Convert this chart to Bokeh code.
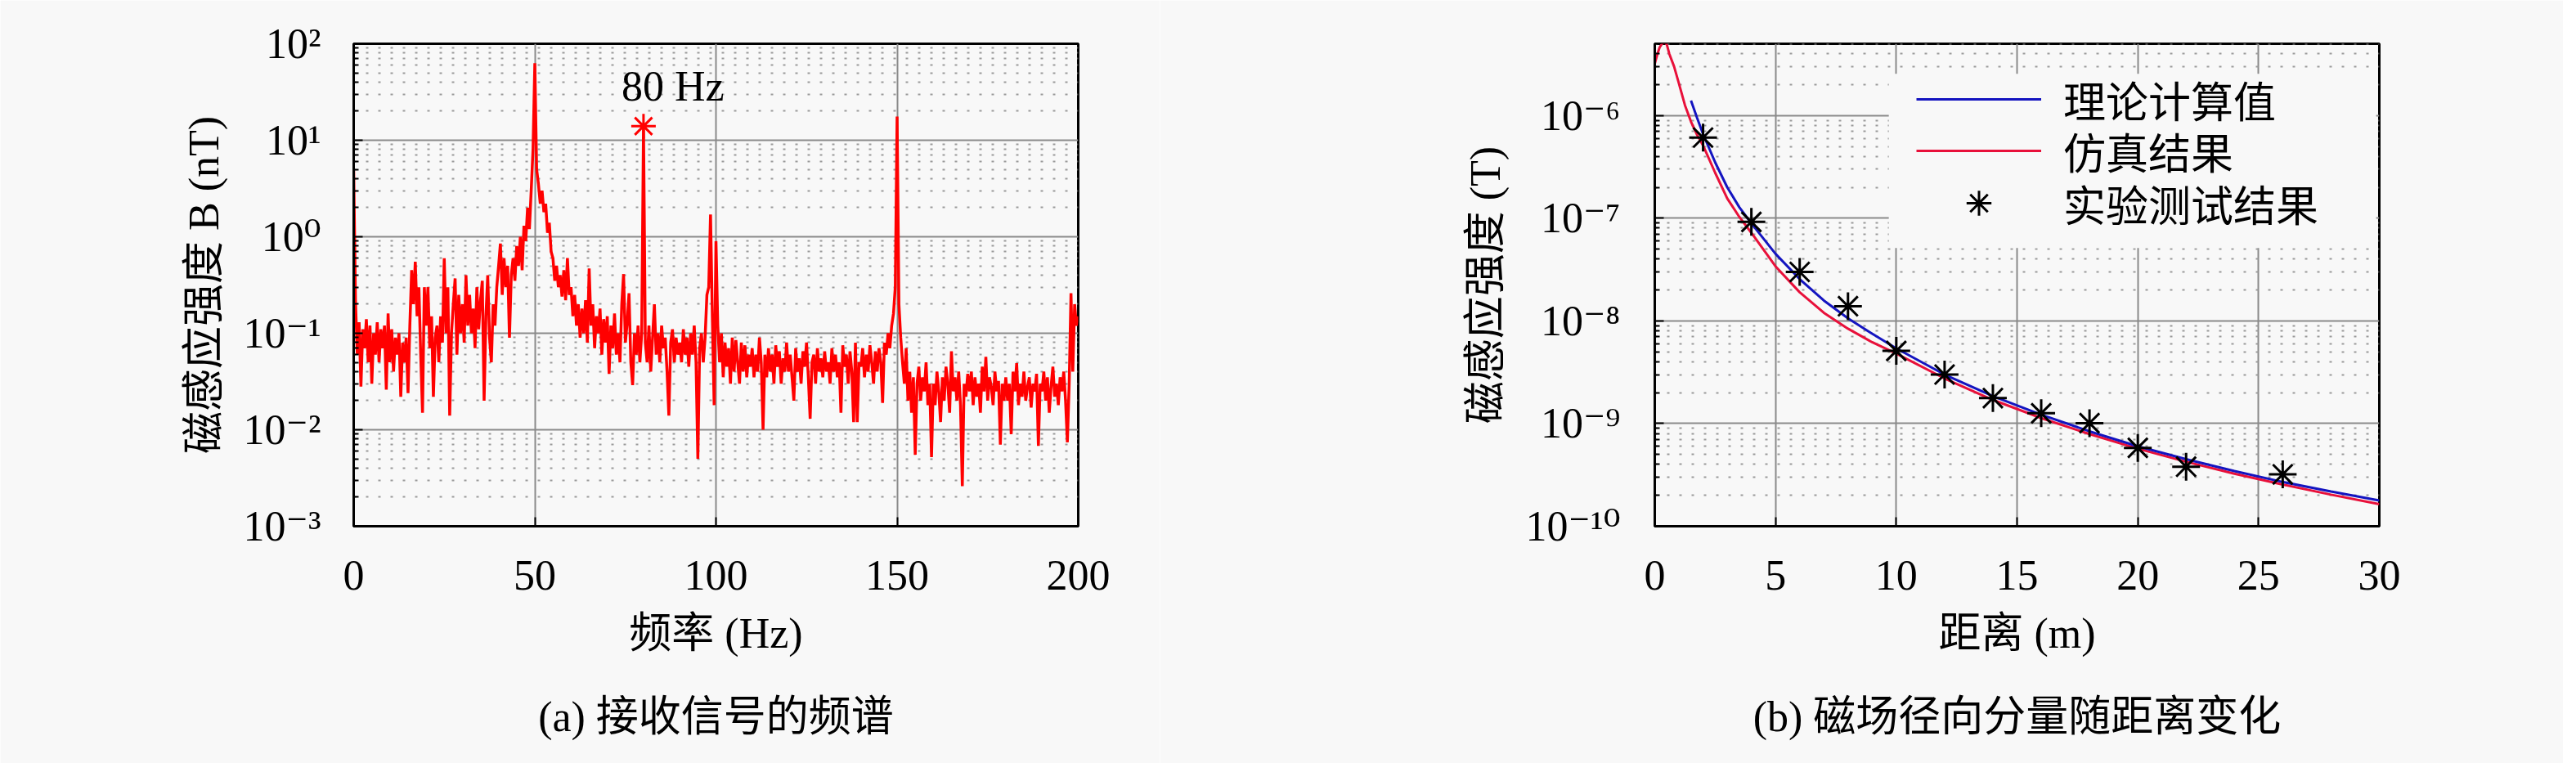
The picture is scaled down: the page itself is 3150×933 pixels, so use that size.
from bokeh.plotting import figure
from bokeh.layouts import row
from bokeh.models import (FixedTicker, CustomJSTickFormatter, Title, Label, Legend,
                          LegendItem, Range1d, BoxAnnotation)
from bokeh.embed import file_html
from bokeh.resources import INLINE

# ---------------- data: panel (a) received-signal spectrum ----------------
freq_start = 0.0
freq_step = 0.5
spectrum_nT = [
    4.8, 0.21, 0.06, 0.13, 0.028, 0.11, 0.07, 0.14, 0.05, 0.12, 0.03, 0.1, 0.06, 0.13, 0.05, 0.11, 0.07, 0.12, 0.026, 0.16,
    0.05, 0.11, 0.04, 0.09, 0.06, 0.1, 0.022, 0.08, 0.05, 0.09, 0.024, 0.12, 0.45, 0.2, 0.55, 0.15, 0.3, 0.06, 0.015, 0.3,
    0.12, 0.3, 0.07, 0.15, 0.022, 0.09, 0.12, 0.05, 0.15, 0.08, 0.6, 0.1, 0.3, 0.014, 0.1, 0.2, 0.37, 0.06, 0.25, 0.1,
    0.2, 0.08, 0.4, 0.12, 0.25, 0.1, 0.18, 0.07, 0.3, 0.11, 0.22, 0.35, 0.02, 0.15, 0.4, 0.09, 0.05, 0.2, 0.12, 0.3,
    0.5, 0.85, 0.25, 0.6, 0.3, 0.5, 0.09, 0.4, 0.6, 0.35, 0.8, 0.5, 1.0, 0.45, 1.3, 0.9, 2.0, 1.2, 3.0, 8.0,
    63, 5.0, 3.5, 2.2, 3.0, 1.8, 2.2, 1.1, 1.4, 0.7, 0.6, 0.35, 0.5, 0.3, 0.4, 0.24, 0.45, 0.22, 0.6, 0.25,
    0.3, 0.15, 0.25, 0.12, 0.2, 0.09, 0.18, 0.1, 0.22, 0.08, 0.47, 0.12, 0.2, 0.07, 0.15, 0.1, 0.18, 0.06, 0.14, 0.08,
    0.15, 0.038, 0.12, 0.07, 0.16, 0.06, 0.1, 0.05, 0.2, 0.41, 0.08, 0.13, 0.26, 0.05, 0.029, 0.1, 0.06, 0.12, 0.05, 0.1,
    14, 0.08, 0.05, 0.12, 0.04, 0.09, 0.2, 0.06, 0.1, 0.05, 0.12, 0.07, 0.09, 0.04, 0.014, 0.08, 0.11, 0.05, 0.09, 0.06,
    0.08, 0.05, 0.11, 0.06, 0.09, 0.045, 0.1, 0.06, 0.12, 0.05, 0.005, 0.07, 0.1, 0.05, 0.09, 0.25, 0.3, 1.7, 0.15, 0.018,
    0.9, 0.12, 0.05, 0.1, 0.035, 0.08, 0.045, 0.07, 0.03, 0.09, 0.04, 0.085, 0.05, 0.03, 0.08, 0.04, 0.075, 0.035, 0.06, 0.045,
    0.07, 0.035, 0.06, 0.04, 0.09, 0.05, 0.01, 0.06, 0.035, 0.07, 0.04, 0.06, 0.03, 0.075, 0.045, 0.065, 0.03, 0.055, 0.04, 0.08,
    0.04, 0.06, 0.035, 0.02, 0.07, 0.04, 0.055, 0.03, 0.065, 0.045, 0.08, 0.035, 0.013, 0.05, 0.06, 0.03, 0.07, 0.04, 0.055, 0.035,
    0.065, 0.04, 0.05, 0.03, 0.07, 0.04, 0.06, 0.035, 0.05, 0.015, 0.075, 0.045, 0.06, 0.03, 0.065, 0.04, 0.012, 0.08, 0.012, 0.05,
    0.045, 0.07, 0.035, 0.06, 0.04, 0.075, 0.05, 0.03, 0.065, 0.04, 0.07, 0.05, 0.019, 0.08, 0.06, 0.1, 0.07, 0.12, 0.16, 0.3,
    17.6, 0.2, 0.09, 0.05, 0.03, 0.07, 0.02, 0.04, 0.015, 0.035, 0.0055, 0.03, 0.045, 0.02, 0.035, 0.025, 0.05, 0.018, 0.03, 0.0052,
    0.03, 0.018, 0.04, 0.025, 0.012, 0.035, 0.02, 0.045, 0.03, 0.015, 0.065, 0.025, 0.035, 0.02, 0.04, 0.018, 0.0026, 0.03, 0.022, 0.038,
    0.025, 0.04, 0.018, 0.035, 0.022, 0.03, 0.015, 0.045, 0.025, 0.057, 0.02, 0.035, 0.028, 0.018, 0.04, 0.025, 0.032, 0.007, 0.03, 0.02,
    0.035, 0.02, 0.03, 0.009, 0.04, 0.025, 0.049, 0.018, 0.03, 0.022, 0.04, 0.02, 0.028, 0.035, 0.017, 0.03, 0.025, 0.038, 0.0068, 0.03,
    0.025, 0.04, 0.02, 0.035, 0.015, 0.028, 0.045, 0.022, 0.03, 0.018, 0.035, 0.025, 0.04, 0.02, 0.0074, 0.03, 0.26, 0.04, 0.2, 0.12,
    0.15,
]
freq_Hz = [freq_start + i * freq_step for i in range(len(spectrum_nT))]
marked_freq = [80]
marked_value = [14.0]
marked_text = "80 Hz"
freq_ticks = [0, 50, 100, 150, 200]

# ---------------- data: panel (b) radial field vs distance ----------------
theory_x = [1.5, 1.75, 2, 2.5, 3, 3.5, 4, 5, 6, 7, 8, 9, 10, 12, 14, 16, 18, 20, 22, 24, 26, 28, 30]
theory_B = [1.4e-6, 9.5e-7, 6.6e-7, 3.5e-7, 2.0e-7, 1.28e-7, 8.9e-8, 4.5e-8, 2.55e-8, 1.58e-8, 1.06e-8,
            7.5e-9, 5.4e-9, 3.0e-9, 1.85e-9, 1.22e-9, 8.4e-10, 6.0e-10, 4.5e-10, 3.45e-10, 2.7e-10,
            2.18e-10, 1.78e-10]
sim_x = [0, 0.1, 0.2, 0.3, 0.4, 0.5, 0.6, 0.8, 1.0, 1.25, 1.5, 1.75, 2, 2.5, 3, 3.5, 4, 5, 6, 7, 8, 9,
         10, 12, 14, 16, 18, 20, 22, 24, 26, 28, 30]
sim_B = [3.2e-6, 3.9e-6, 4.6e-6, 5.0e-6, 5.2e-6, 4.9e-6, 4.0e-6, 3.0e-6, 2.05e-6, 1.26e-6, 8.7e-7, 6.5e-7,
         5.1e-7, 2.77e-7, 1.56e-7, 1.03e-7, 7.2e-8, 3.4e-8, 1.9e-8, 1.2e-8, 8.4e-9, 6.2e-9,
         4.8e-9, 2.75e-9, 1.7e-9, 1.13e-9, 7.9e-10, 5.7e-10, 4.25e-10, 3.25e-10, 2.55e-10, 2.03e-10, 1.64e-10]
exp_x = [2, 4, 6, 8, 10, 12, 14, 16, 18, 20, 22, 26]
exp_B = [6.1e-7, 9.2e-8, 3.0e-8, 1.39e-8, 5.1e-9, 3.0e-9, 1.77e-9, 1.26e-9, 1.01e-9, 5.8e-10, 3.8e-10, 3.2e-10]
dist_ticks = [0, 5, 10, 15, 20, 25, 30]
legend_labels = ["理论计算值", "仿真结果", "实验测试结果"]

# ---------------- styling ----------------
BG = "#f8f8f8"
SERIF = "Liberation Serif, DejaVu Serif"
MIX = "Liberation Serif, Noto Sans CJK SC"
FS = "52px"
GRID = "#8a8a8a"
MINOR = "#9a9a9a"

SUP_JS = r"""
const e = Math.round(Math.log10(tick));
const m = {"-": "\u207B", "0": "\u2070", "1": "\u00B9", "2": "\u00B2", "3": "\u00B3",
           "4": "\u2074", "5": "\u2075", "6": "\u2076", "7": "\u2077", "8": "\u2078", "9": "\u2079"};
return "10" + String(e).split("").map(c => m[c]).join("");
"""


def log_ticker(e_lo, e_hi):
    majors = [10.0 ** e for e in range(e_lo, e_hi + 1)]
    minors = [m * 10.0 ** e for e in range(e_lo, e_hi + 1) for m in range(2, 10)]
    return FixedTicker(ticks=majors, minor_ticks=minors)


def make_fig(x_lo, x_hi, y_lo, y_hi, e_lo, e_hi, xticks, border_left, border_right,
             xlabel, ylabel, caption, ylab_standoff, ytitle_standoff):
    p = figure(x_range=Range1d(x_lo, x_hi), y_range=Range1d(y_lo, y_hi), y_axis_type="log",
               frame_width=886, frame_height=590,
               min_border_left=border_left, min_border_right=border_right,
               min_border_top=53, min_border_bottom=8,
               output_backend="svg", toolbar_location=None,
               background_fill_color=BG, border_fill_color=BG)
    p.outline_line_color = "black"
    p.outline_line_width = 3

    yt = log_ticker(e_lo, e_hi)
    xt = FixedTicker(ticks=xticks, minor_ticks=[])
    p.xaxis.ticker = xt
    p.yaxis.ticker = yt
    p.yaxis.formatter = CustomJSTickFormatter(code=SUP_JS)

    for ax in (p.xaxis[0], p.yaxis[0]):
        ax.axis_line_width = 3
        ax.major_tick_in = 11
        ax.major_tick_out = 0
        ax.minor_tick_in = 6
        ax.minor_tick_out = 0
        ax.major_tick_line_width = 2
        ax.minor_tick_line_width = 2
        ax.major_label_text_font = SERIF
        ax.major_label_text_font_size = FS
        ax.major_label_text_color = "black"
        ax.axis_label_text_font = MIX
        ax.axis_label_text_font_size = FS
        ax.axis_label_text_font_style = "normal"
        ax.axis_label_text_color = "black"
    p.xaxis.axis_label = xlabel
    p.yaxis.axis_label = ylabel
    p.xaxis.major_label_standoff = 42
    p.xaxis.axis_label_standoff = 22
    p.yaxis.major_label_standoff = ylab_standoff
    p.yaxis.axis_label_standoff = ytitle_standoff

    p.xgrid.grid_line_color = GRID
    p.xgrid.grid_line_width = 2
    p.ygrid.grid_line_color = GRID
    p.ygrid.grid_line_width = 2
    p.ygrid.minor_grid_line_color = MINOR
    p.ygrid.minor_grid_line_width = 2
    p.ygrid.minor_grid_line_dash = "3 12"

    p.add_layout(Title(text=caption, align="center", text_font=MIX, text_font_size=FS,
                       text_font_style="normal", text_color="black", standoff=80), "below")
    return p


# ---------------- panel (a) ----------------
p1 = make_fig(0, 200, 1e-3, 1e2, -3, 2, freq_ticks, 432, 100,
              "频率 (Hz)", "磁感应强度 B (nT)", "(a) 接收信号的频谱", 40, 16)
p1.line(freq_Hz, spectrum_nT, line_color="#ff0000", line_width=3.5)
p1.scatter(marked_freq, marked_value, marker="asterisk", size=30,
           line_color="#ff0000", line_width=3)
p1.add_layout(Label(x=marked_freq[0], y=marked_value[0], text=marked_text,
                    x_offset=-27, y_offset=20, text_font=SERIF, text_font_size=FS,
                    text_color="black", text_align="left", text_baseline="bottom"))

# ---------------- panel (b) ----------------
p2 = make_fig(0, 30, 1e-10, 5e-6, -10, -6, dist_ticks, 605, 225,
              "距离 (m)", "磁感应强度 (T)", "(b) 磁场径向分量随距离变化", 42, 18)
r_sim = p2.line(sim_x, sim_B, line_color="#e8103a", line_width=3)
r_th = p2.line(theory_x, theory_B, line_color="#1414c0", line_width=3)
r_exp = p2.scatter(exp_x, exp_B, marker="asterisk", size=34, line_color="black", line_width=3)

# legend background panel (masks the grid behind the legend, as in the original)
p2.add_layout(BoxAnnotation(left=9.69, right=29.87, top=2.55e-6, bottom=5.13e-8,
                            fill_color=BG, fill_alpha=1.0, line_color=None))

renderers = [r_th, r_sim, r_exp]
row_bottoms = [484, 421, 357]   # screen offsets of each legend row above the frame bottom
for lab, rend, yb in zip(legend_labels, renderers, row_bottoms):
    lg = Legend(items=[LegendItem(label=lab, renderers=[rend])], location=(320, yb))
    lg.background_fill_alpha = 0.0
    lg.border_line_color = None
    lg.label_text_font = MIX
    lg.label_text_font_size = FS
    lg.label_text_color = "black"
    lg.glyph_width = 153
    lg.glyph_height = 76
    lg.label_height = 76
    lg.label_standoff = 27
    lg.spacing = 0
    lg.padding = 0
    lg.margin = 0
    p2.add_layout(lg)

layout = row(p1, p2)
with open("out.html", "w") as f:
    f.write(file_html(layout, INLINE, title="chart"))
